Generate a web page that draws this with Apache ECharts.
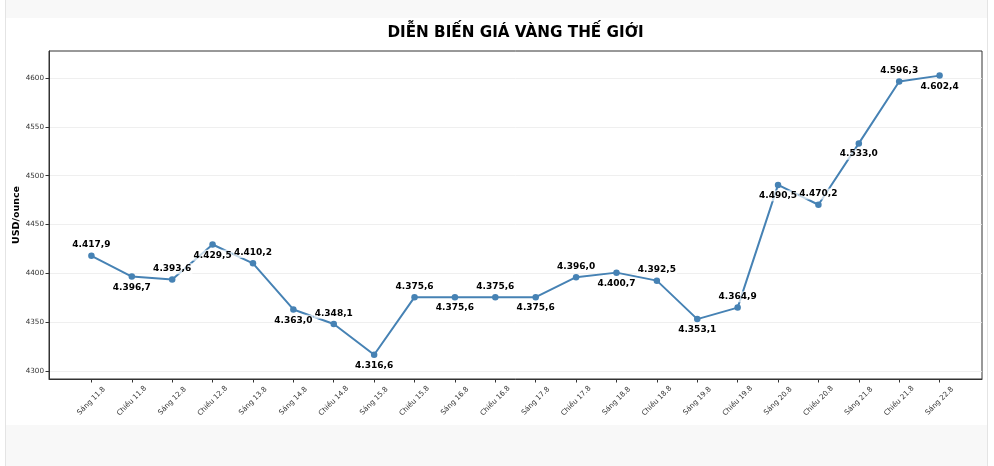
<!DOCTYPE html>
<html>
<head>
<meta charset="utf-8">
<script src="https://cdn.jsdelivr.net/npm/echarts@6/dist/echarts.min.js"></script>
<style>
html,body{margin:0;padding:0;background:#fff;width:994px;height:466px;overflow:hidden;}
#frame{position:absolute;left:5px;top:0;width:981px;height:466px;border-left:1px solid #e4e4e4;border-right:1px solid #e4e4e4;background:#f8f8f8;}
#panel{position:absolute;left:6px;top:18px;width:981px;height:407px;background:#fff;}
#chart{position:absolute;left:0;top:0;width:994px;height:466px;}
</style>
</head>
<body>
<div id="frame"></div>
<div id="panel"></div>
<div id="chart"></div>
<script>
const categories = ["Sáng 11.8","Chiều 11.8","Sáng 12.8","Chiều 12.8","Sáng 13.8","Sáng 14.8","Chiều 14.8","Sáng 15.8","Chiều 15.8","Sáng 16.8","Chiều 16.8","Sáng 17.8","Chiều 17.8","Sáng 18.8","Chiều 18.8","Sáng 19.8","Chiều 19.8","Sáng 20.8","Chiều 20.8","Sáng 21.8","Chiều 21.8","Sáng 22.8"];
const prices = [4417.9,4396.7,4393.6,4429.5,4410.2,4363.0,4348.1,4316.6,4375.6,4375.6,4375.6,4375.6,4396.0,4400.7,4392.5,4353.1,4364.9,4490.5,4470.2,4533.0,4596.3,4602.4];
const yTicks = [4300,4350,4400,4450,4500,4550,4600];
const titleText = "DIỄN BIẾN GIÁ VÀNG THẾ GIỚI";
const yName = "USD/ounce";

function fmt(v){
  const s = v.toFixed(1).split('.');
  return s[0].replace(/\B(?=(\d{3})+(?!\d))/g,'.') + ',' + s[1];
}
const FONT = "DejaVu Sans";
const chart = echarts.init(document.getElementById('chart'), null, {renderer:'canvas'});
const xIdx = categories.map((c,i)=>i);
chart.setOption({
  backgroundColor:'transparent',
  animation:false,
  textStyle:{fontFamily:FONT},
  title:{
    text:titleText, left:515.5, textAlign:'center', top:26, padding:0,
    textStyle:{fontFamily:FONT, fontSize:15.2, fontWeight:'bold', color:'#000'}
  },
  grid:{left:49, right:12, top:51, bottom:87, show:true, borderColor:'#333', borderWidth:1,
    backgroundColor:'transparent', outerBoundsMode:'none', containLabel:false},
  xAxis:{
    type:'value', min:-1.05, max:categories.length-1+1.05,
    axisLine:{show:true, onZero:false, lineStyle:{color:'#333', width:1}},
    axisTick:{show:true, length:3.5, lineStyle:{color:'#333'}, customValues:xIdx},
    axisLabel:{customValues:xIdx, rotate:45, align:'center', verticalAlign:'middle',
      fontSize:7.2, color:'#333', margin:22, fontFamily:FONT,
      formatter:(v)=>categories[Math.round(v)]},
    splitLine:{show:false}
  },
  yAxis:{
    type:'value', min:4291.8, max:4627.6,
    name:yName, nameLocation:'middle', nameGap:27.5, nameRotate:90, nameMoveOverlap:false,
    nameTextStyle:{fontFamily:FONT, fontSize:9.5, fontWeight:'bold', color:'#000'},
    axisLine:{show:true, onZero:false, lineStyle:{color:'#333', width:1}},
    axisTick:{show:true, length:3.5, lineStyle:{color:'#333'}, customValues:yTicks},
    axisLabel:{customValues:yTicks, fontSize:7.2, color:'#333', margin:5, fontFamily:FONT,
      formatter:(v)=>String(Math.round(v))},
    splitLine:{show:true, lineStyle:{color:'#ebebeb', width:0.8}}
  },
  series:[{
    type:'line',
    data:prices.map((v,i)=>({value:[i,v], label:{position: i%2===0?'top':'bottom'}})),
    symbol:'circle', symbolSize:6.5,
    lineStyle:{color:'#4682b4', width:2},
    itemStyle:{color:'#4682b4'},
    z:2,
    label:{show:true, distance:2, fontFamily:FONT, fontSize:9, fontWeight:'bold', color:'#000',
      backgroundColor:'rgba(255,255,255,0.7)', padding:[1,1],
      formatter:(p)=>fmt(p.value[1])},
    labelLayout:{hideOverlap:false}
  }]
});
</script>
</body>
</html>
